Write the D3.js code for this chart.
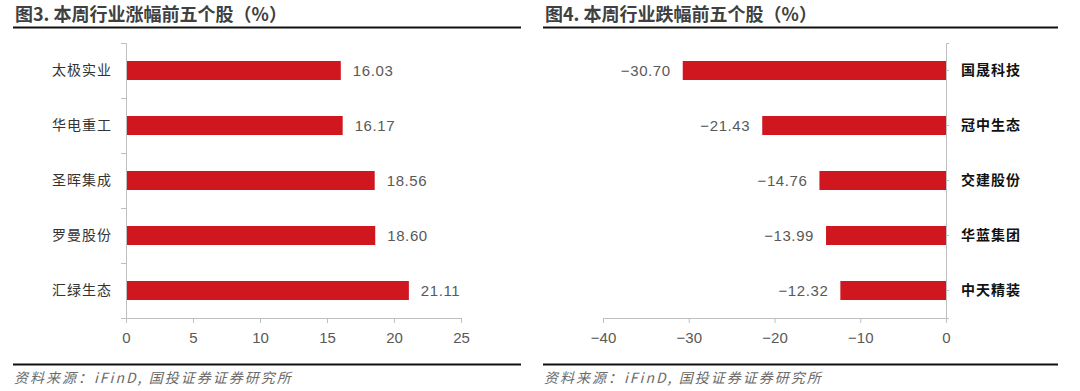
<!DOCTYPE html>
<html>
<head>
<meta charset="utf-8">
<script src="https://cdn.jsdelivr.net/npm/d3@7"></script>
<style>
  body { margin: 0; background: #fff; }
  svg { display: block; }
  .title { font-family: "Noto Sans CJK SC", sans-serif; font-size: 18px; font-weight: 700; fill: #404040; }
  .source { font-family: "Noto Sans CJK SC", sans-serif; font-size: 14px; font-style: italic; fill: #6b6b6b; letter-spacing: 2px; }
  .axis path, .axis line { stroke: #bfbfbf; }
  .xaxis text { font-family: "Liberation Sans", Arial, sans-serif; font-size: 15px; fill: #595959; }
  .cat text { font-family: "Noto Sans CJK SC", sans-serif; font-size: 14px; letter-spacing: 1px; }
  .val { font-family: "Liberation Sans", Arial, sans-serif; font-size: 15px; fill: #595959; letter-spacing: 0.6px; }
</style>
</head>
<body>
<svg id="chart" width="1080" height="391"></svg>
<script>
const upNames = ['太极实业', '华电重工', '圣晖集成', '罗曼股份', '汇绿生态'];
const upValues = [16.03, 16.17, 18.56, 18.60, 21.11];
const upTicks = [0, 5, 10, 15, 20, 25];

const downNames = ['国晟科技', '冠中生态', '交建股份', '华蓝集团', '中天精装'];
const downValues = [-30.70, -21.43, -14.76, -13.99, -12.32];
const downTicks = [-40, -30, -20, -10, 0];

const barColor = '#d0161f';
const svg = d3.select('#chart');

function panel(opt) {
  const g = svg.append('g');

  g.append('text').attr('class', 'title')
    .attr('x', opt.left + 2).attr('y', 21)
    .text(opt.title);
  g.append('line')
    .attr('x1', opt.left).attr('x2', opt.right)
    .attr('y1', 27.5).attr('y2', 27.5)
    .attr('stroke', '#111').attr('stroke-width', 2);
  g.append('line')
    .attr('x1', opt.left).attr('x2', opt.right)
    .attr('y1', 364.5).attr('y2', 364.5)
    .attr('stroke', '#111').attr('stroke-width', 2);
  g.append('text').attr('class', 'source')
    .attr('x', opt.left + 1).attr('y', 383)
    .text('资料来源：iFinD, 国投证券证券研究所');

  const top = 43, bottom = 318;
  const x = d3.scaleLinear().domain(opt.domain).range(opt.xRange);
  const y = d3.scaleBand().domain(opt.names).range([top, bottom])
    .paddingInner(0.655).paddingOuter(0.3275);

  g.append('g')
    .attr('class', 'axis xaxis')
    .attr('transform', 'translate(0,' + bottom + ')')
    .call(d3.axisBottom(x).tickValues(opt.ticks).tickSize(5).tickPadding(6))
    .call(a => a.selectAll('text').attr('dy', '0.9em'));

  const data = opt.names.map((n, i) => ({ name: n, value: opt.values[i] }));

  g.selectAll('.bar')
    .data(data)
    .enter().append('rect')
    .attr('fill', barColor)
    .attr('x', d => Math.min(x(0), x(d.value)))
    .attr('y', d => y(d.name))
    .attr('width', d => Math.abs(x(d.value) - x(0)))
    .attr('height', y.bandwidth());

  g.selectAll('.val')
    .data(data)
    .enter().append('text')
    .attr('class', 'val')
    .attr('x', d => d.value >= 0 ? x(d.value) + 12 : x(d.value) - 12)
    .attr('y', d => y(d.name) + y.bandwidth() / 2)
    .attr('dy', '0.36em')
    .attr('text-anchor', d => d.value >= 0 ? 'start' : 'end')
    .text(d => d3.format('.2f')(d.value));

  return { g: g, x: x, y: y, top: top, bottom: bottom };
}

// left: gainers
const p1 = panel({
  title: '图3. 本周行业涨幅前五个股（%）',
  left: 13, right: 521,
  names: upNames, values: upValues, ticks: upTicks,
  domain: [0, 25], xRange: [126, 461]
});
const idx1 = d3.scaleLinear().domain([0, upNames.length]).range([p1.top, p1.bottom]);
p1.g.append('g')
  .attr('class', 'axis')
  .attr('transform', 'translate(' + p1.x(0) + ',0)')
  .call(d3.axisLeft(idx1).ticks(upNames.length).tickFormat('').tickSize(5));
p1.g.append('g')
  .attr('class', 'cat')
  .attr('transform', 'translate(' + p1.x(0) + ',0)')
  .call(d3.axisLeft(p1.y).tickSize(0).tickPadding(14))
  .call(a => a.select('.domain').remove())
  .call(a => a.selectAll('text').attr('fill', '#333'));

// right: losers
const p2 = panel({
  title: '图4. 本周行业跌幅前五个股（%）',
  left: 543, right: 1058,
  names: downNames, values: downValues, ticks: downTicks,
  domain: [-40, 0], xRange: [603, 946]
});
p2.g.append('g')
  .attr('class', 'axis cat')
  .attr('transform', 'translate(' + p2.x(0) + ',0)')
  .call(d3.axisRight(p2.y).tickSize(3).tickPadding(12))
  .call(a => a.selectAll('text').attr('fill', '#111').attr('font-weight', 700));
</script>
</body>
</html>
